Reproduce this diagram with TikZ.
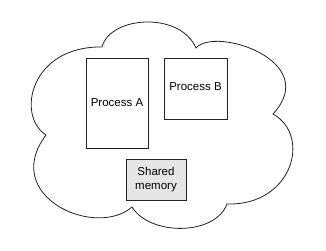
\documentclass[tikz,border=0pt]{standalone}
\usepackage{fontspec}
\setmainfont{Liberation Sans}
\usepackage{tikz}
\usetikzlibrary{positioning}
\definecolor{edge}{HTML}{222222}
\definecolor{shmfill}{HTML}{E6E6E6}

\begin{document}
\begin{tikzpicture}[
    x=1pt, y=1pt,
    every node/.style={font=\fontsize{11.5}{14}\selectfont},
    proc/.style={draw=edge, line width=0.8pt, fill=white, align=center, inner sep=0pt},
    shm/.style={proc, fill=shmfill},
    cloudline/.style={draw=edge, line width=0.8pt}
]
    \useasboundingbox (0,0) rectangle (326,251);
    % cloud outline, one bump after the other
    \coordinate (cl) at (46,116);
    \coordinate (cul) at (102,204);
    \coordinate (ctr) at (196,203);
    \coordinate (cr) at (273,137);
    \coordinate (clr) at (227,47);
    \coordinate (cb) at (132,44);
    \draw[cloudline] (cl) .. controls (16,135) and (30,205) .. (cul)
        .. controls (110,235) and (180,240) .. (ctr)
        .. controls (215,225) and (322,190) .. (cr)
        .. controls (312,115) and (292,45) .. (clr)
        .. controls (215,15) and (150,15) .. (cb)
        .. controls (95,12) and (0,55) .. (cl) -- cycle;

    \node[proc, minimum width=62, minimum height=90] (procA) at (117,148) {Process A};
    \node[proc, minimum width=63, minimum height=61, text depth=4pt] (procB) at (195.5,162.5) {Process B};
    \node[shm, minimum width=60, minimum height=41] (shmem) at (156,71.5) {Shared\\memory};
\end{tikzpicture}
\end{document}
